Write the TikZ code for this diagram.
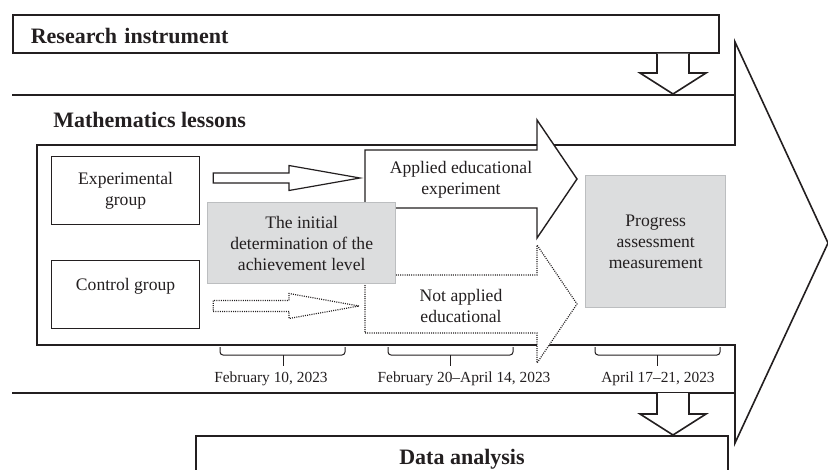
\documentclass[tikz,border=0pt]{standalone}
\usepackage{fontspec}
\setmainfont{Liberation Serif}
\usetikzlibrary{positioning,calc}
\definecolor{FigInk}{HTML}{231F20}
\definecolor{FigGray}{HTML}{DCDDDE}
\definecolor{FigGrayLine}{HTML}{BCBEC0}

\begin{document}
\begin{tikzpicture}[x=0.5pt,y=-0.5pt,font=\fontsize{8.8}{10.5}\selectfont,color=FigInk,line join=miter]
\tikzset{grp/.style={draw=FigInk,line width=.6pt,align=center,minimum width=74pt,minimum height=34pt,inner sep=0pt},
         graybox/.style={draw=FigGrayLine,fill=FigGray,line width=.7pt,align=center,inner sep=0pt},
         titlebox/.style={draw=FigInk,line width=.8pt,font=\fontsize{11}{13}\selectfont\bfseries,inner ysep=0pt,minimum height=19pt,text height=12.5pt,text depth=2.5pt},
         datelbl/.style={font=\fontsize{7.7}{9}\selectfont,anchor=base},
         brk/.style={draw=FigInk,line width=.5pt,rounded corners=1.5pt},
         dotline/.style={draw=FigInk,line width=.6pt,dash pattern=on .5pt off .6pt},
         fatarrow/.style args={#1/#2/#3}{to path={let \p1=(\tikztostart),\p2=(\tikztotarget) in (\x1,\y1-#1)--(\x2-#3,\y1-#1)--(\x2-#3,\y1-#2)--(\x2,\y1)--(\x2-#3,\y1+#2)--(\x2-#3,\y1+#1)--(\x1,\y1+#1)--cycle}},
         downarrow/.style={to path={let \p1=(\tikztostart),\p2=(\tikztotarget) in (\x1-8pt,\y1)--(\x1-8pt,\y2+10.5pt)--(\x1-16.5pt,\y2+10.5pt)--(\x1,\y2)--(\x1+16.5pt,\y2+10.5pt)--(\x1+8pt,\y2+10.5pt)--(\x1+8pt,\y1)}}}
\useasboundingbox (0,0) rectangle (828,470);
\clip (0,0) rectangle (828,470);
\coordinate (bodyNW) at (12,95); \coordinate (bodyNE) at (735,95);
\coordinate (bodySW) at (12,393); \coordinate (bodySE) at (735,393);
\coordinate (headN) at (735,42); \coordinate (headS) at (735,443); \coordinate (headtip) at (828,243);
\draw[line width=1.4pt] (bodyNW) -- (bodyNE); \draw[line width=1.4pt] (bodySW) -- (bodySE);
\draw[line width=.8pt] (37,345) -- (735,345) -- (headS) -- (headtip) -- (headN) -- (735,145) -- (37,145) -- cycle;
\node[titlebox,anchor=north west,inner xsep=9pt,text width=335pt,align=left] (research) at (12,14) {Research instrument};
\coordinate (tipA) at (673,94);
\draw[line width=.8pt,fill=white,downarrow] (research.south -| tipA) to (tipA);
\node[font=\fontsize{11}{13}\selectfont\bfseries,anchor=base west,inner sep=0pt] (lessons) at (53,128) {Mathematics lessons};
\node[grp,anchor=north west] (expgroup) at (51,156) {Experimental\\group};
\node[grp,below=17.5pt of expgroup] (ctrlgroup) {Control group\\\mbox{}};
\coordinate (appS) at (365,179); \coordinate (appT) at (577,179);
\coordinate (naS) at (365,304); \coordinate (naT) at (577,304);
\draw[line width=.6pt,fatarrow=2.5pt/6.25pt/35.5pt] ($(expgroup.east |- appS)+(13,-1)$) to ($(appS)+(-5,0)$);
\draw[dotline,fatarrow=2.75pt/6.25pt/35pt] ($(ctrlgroup.east |- naS)+(13,2)$) to ($(naS)+(-6,0)$);
\draw[line width=.7pt,fill=white,fatarrow=14.5pt/29.5pt/20pt] (appS) to (appT);
\node[align=center] (applied) at (461,180) {Applied educational\\experiment};
\draw[dotline,fill=white,fatarrow=14.5pt/29.5pt/20pt] (naS) to (naT);
\node[align=center] (notapplied) at (461,306) {Not applied\\educational};
\node[graybox,minimum width=94pt,minimum height=40.5pt,anchor=north west] (initial) at (207,202) {The initial\\determination of the\\achievement level};
\node[graybox,minimum width=70pt,minimum height=66pt,anchor=north west] (progress) at (585,175) {Progress\\assessment\\measurement};
\node[datelbl] (dateA) at (271,382.5) {February 10, 2023};
\node[datelbl] (dateB) at (464,382.5) {February 20–April 14, 2023};
\node[datelbl] (dateC) at (658,382.5) {April 17–21, 2023};
\draw[brk] (220,347) |- (283,355) -| (345,347); \draw[brk] (283,355) -- (283,366);
\draw[brk] (388,347) |- (450,355) -| (513,347); \draw[brk] (450,355) -- (450,366);
\draw[brk] (595,347) |- (657,355) -| (720,347); \draw[brk] (657,355) -- (657,366);
\node[titlebox,anchor=north,minimum width=266pt,minimum height=22pt,text depth=5.5pt] (data) at (462,435) {Data analysis};
\coordinate (outB) at (673,393);
\draw[line width=.8pt,fill=white,downarrow] (outB) to (outB |- data.north);
\end{tikzpicture}
\end{document}
